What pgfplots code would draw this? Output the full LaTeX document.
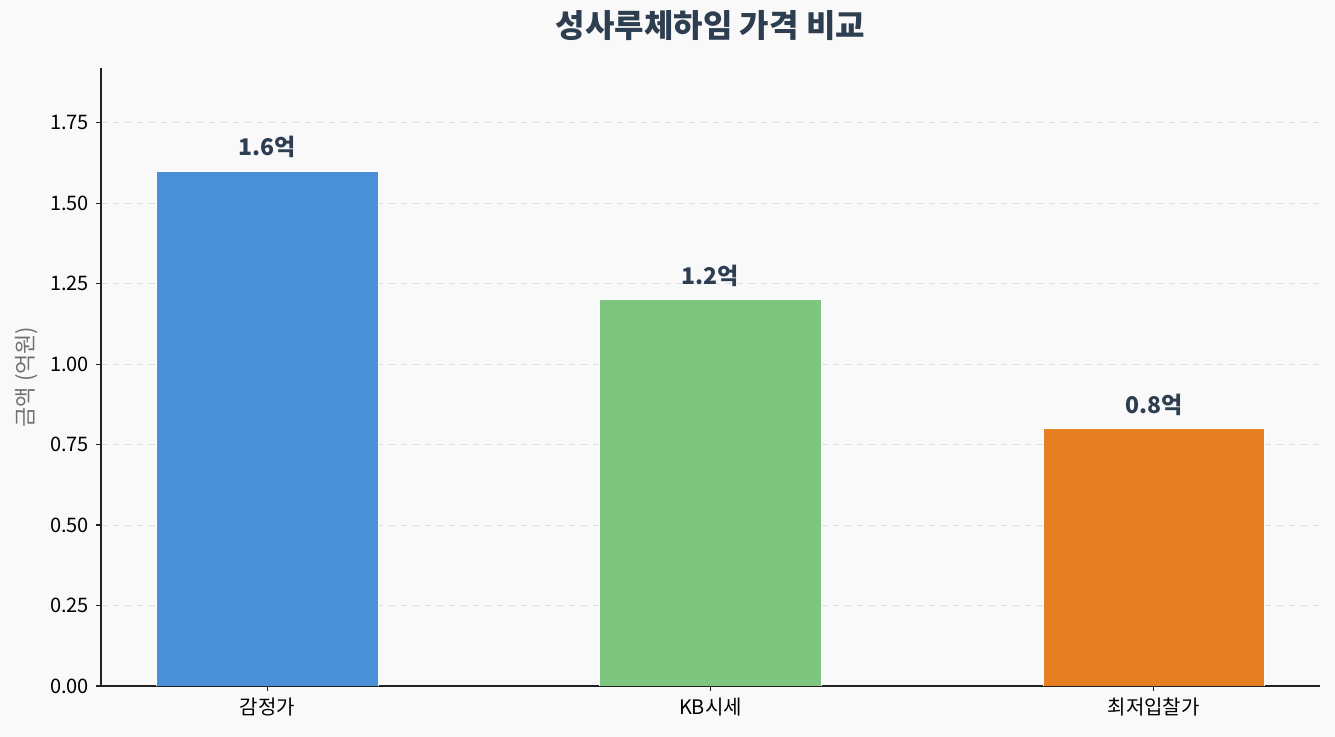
\documentclass[border=0pt]{standalone}
\usepackage{fontspec}
\setmainfont{Noto Sans CJK KR}
\usepackage{pgfplots}
\pgfplotsset{compat=1.18}

\definecolor{bgc}{HTML}{F9F9F9}
\definecolor{cblue}{HTML}{4A90D9}
\definecolor{cgreen}{HTML}{7EC680}
\definecolor{corange}{HTML}{E67E22}
\definecolor{ctitle}{HTML}{2C3E50}
\definecolor{cspine}{HTML}{222222}
\definecolor{clabel}{HTML}{707070}

\begin{document}
\begin{tikzpicture}
\fill[bgc] (0,0) rectangle (667.5pt,368.5pt);
\begin{axis}[
    at={(50.5pt,25.5pt)}, anchor=south west,
    scale only axis,
    width=609.5pt, height=309pt,
    xmin=-0.375, xmax=2.375,
    ymin=0, ymax=1.92,
    ytick={0,0.25,...,1.75},
    xtick={0,1,2},
    xticklabels={감정가, KB시세, 최저입찰가},
    yticklabel style={/pgf/number format/.cd, fixed, fixed zerofill, precision=2},
    /pgf/number format/assume math mode=true,
    tick label style={font=\fontsize{10}{12}\selectfont, text=black},
    axis x line*=bottom, axis y line*=left,
    axis line style={cspine, line width=0.6pt, -},
    tick style={cspine, line width=0.6pt},
    tick align=outside,
    major tick length=2.5pt,
    ymajorgrids,
    major grid style={dashed, gray!25, line width=0.5pt},
    ylabel={금액 (억원)},
    ylabel style={font=\fontsize{11}{13}\selectfont, text=clabel, at={(axis description cs:0,0.5)}, anchor=south, yshift=28pt},
    ybar, bar width=0.5, bar shift=0pt,
    nodes near coords,
    point meta=explicit symbolic,
    every node near coord/.append style={font=\bfseries\fontsize{11.5}{13}\selectfont, text=ctitle, yshift=3pt},
    title={\bfseries 성사루체하임 가격 비교},
    title style={font=\bfseries\fontsize{16}{18}\selectfont, text=ctitle, yshift=4pt},
]
\addplot[fill=cblue, draw=white, line width=0.4pt] coordinates {(0,1.6) [1.6억]};
\addplot[fill=cgreen, draw=white, line width=0.4pt] coordinates {(1,1.2) [1.2억]};
\addplot[fill=corange, draw=white, line width=0.4pt] coordinates {(2,0.8) [0.8억]};
\end{axis}
\pgfresetboundingbox
\useasboundingbox (0,0) rectangle (667.5pt,368.5pt);
\end{tikzpicture}
\end{document}
